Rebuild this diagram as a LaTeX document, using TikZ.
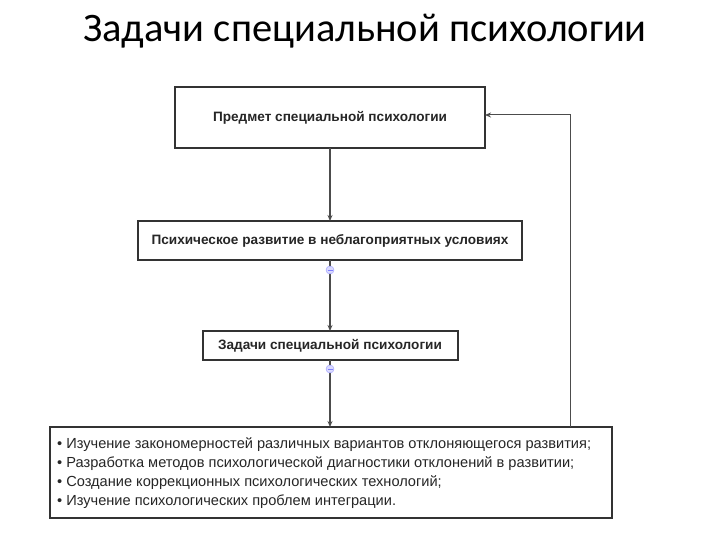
\documentclass[tikz,border=0pt]{standalone}
\usepackage{fontspec}
\setmainfont{Liberation Sans}
\newfontfamily\titlefont{Carlito}
\usetikzlibrary{arrows.meta}
\begin{document}
\begin{tikzpicture}[x=1pt,y=-1pt,
  box/.style={draw=black!80,line width=1.6pt,fill=white,inner sep=0pt},
  lbl/.style={font=\fontsize{13.6}{16}\selectfont\bfseries,text=black!85},
  conn/.style={draw=black!70,line width=1.2pt,-{Stealth[length=6pt,width=5pt]}},
  knob/.style={circle,draw=blue!40,fill=blue!15,inner sep=0pt,minimum size=8pt}]
\useasboundingbox (0,0) rectangle (720,540);
\node[font=\titlefont\fontsize{40.5}{44}\selectfont] (title) at (365,31) {Задачи специальной психологии};
\draw[box] (175,87) rectangle (485,148);
\node[lbl] (b1) at (330,118) {Предмет специальной психологии};
\coordinate (b1b) at (330,148); \coordinate (b1r) at (485,115);
\draw[box] (138,221) rectangle (522,260);
\node[lbl] (b2) at (330,241) {Психическое развитие в неблагоприятных условиях};
\coordinate (b2t) at (330,221); \coordinate (b2b) at (330,260);
\draw[box] (203,331) rectangle (458,360);
\node[lbl] (b3) at (330,346) {Задачи специальной психологии};
\coordinate (b3t) at (330,331); \coordinate (b3b) at (330,360);
\draw[box] (50,427) rectangle (612,518);
\node[font=\fontsize{14.6}{19}\selectfont,text=black!85,align=left,anchor=west,inner sep=0pt] (b4) at (57,473)
 {• Изучение закономерностей различных вариантов отклоняющегося развития;\\
  • Разработка методов психологической диагностики отклонений в развитии;\\
  • Создание коррекционных психологических технологий;\\
  • Изучение психологических проблем интеграции.};
\coordinate (b4t) at (330,427); \coordinate (b4f) at (570,427);
\draw[conn] (b1b) -- (b2t);
\draw[conn] (b2b) -- (b3t);
\draw[conn] (b3b) -- (b4t);
\draw[conn,line width=1pt] (b4f) -- (570,115) -- (b1r);
\node[knob] (k1) at (330,270) {};
\draw[blue!50,line width=0.6pt] (327.5,270) -- (332.5,270);
\node[knob] (k2) at (330,369) {};
\draw[blue!50,line width=0.6pt] (327.5,369) -- (332.5,369);
\end{tikzpicture}
\end{document}
